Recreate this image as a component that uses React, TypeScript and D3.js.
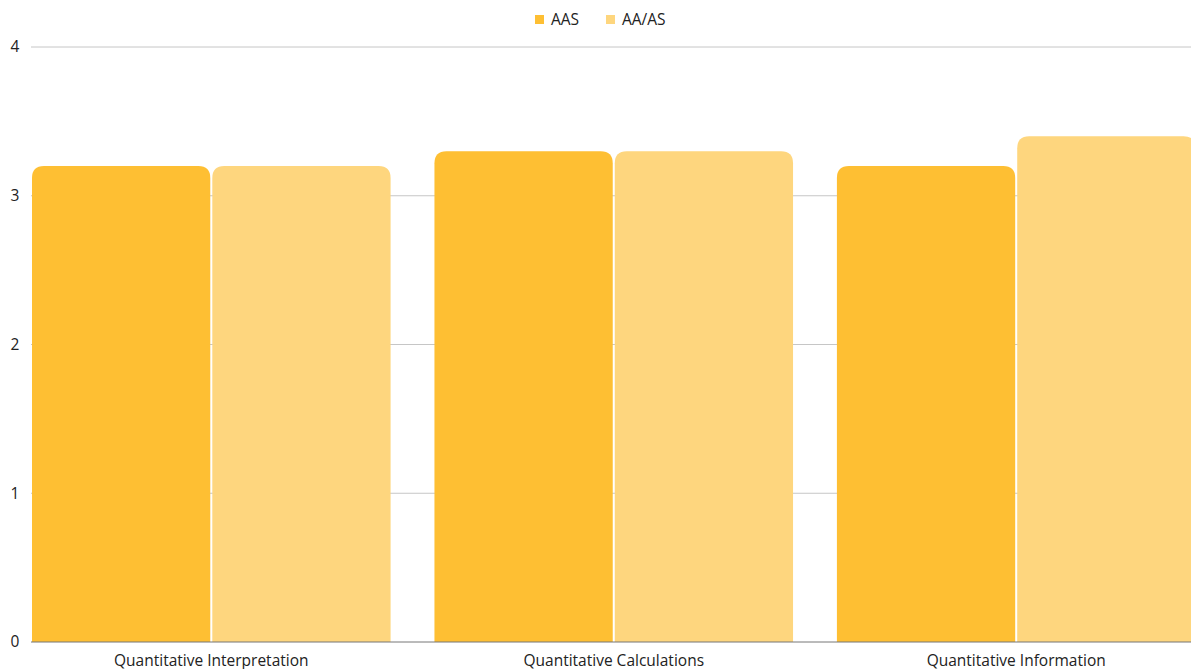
import React, { useEffect } from "react";
import * as d3 from "d3";

const categories = ["Quantitative Interpretation", "Quantitative Calculations", "Quantitative Information"];
const seriesNames = ["AAS", "AA/AS"];
const aasValues = [3.2, 3.3, 3.2];
const aaasValues = [3.2, 3.3, 3.4];
const yTicks = [0, 1, 2, 3, 4];
const colors = ["#FEBF33", "#FED67E"];

const W = 1191;
const H = 669;
const FONT = "'Source Sans Pro', 'Open Sans', sans-serif";
const FS = 15.5;

function topRounded(x: number, y: number, w: number, h: number, r: number) {
  const rr = Math.min(r, w / 2, h);
  return `M${x},${y + h}V${y + rr}Q${x},${y} ${x + rr},${y}H${x + w - rr}Q${x + w},${y} ${x + w},${y + rr}V${y + h}Z`;
}

export default function App() {
  useEffect(() => {
    document.body.style.margin = "0";
  }, []);

  const left = 31;
  const plotRight = 1191;
  const y = d3.scaleLinear().domain([0, 4]).range([642, 47]);
  const x = d3.scaleBand<string>().domain(categories).range([32, 1195.5]).paddingInner(0.109).paddingOuter(0);
  const inner = d3.scaleBand<string>().domain(seriesNames).range([0, x.bandwidth()]).paddingInner(0.0112);
  const series = [aasValues, aaasValues];

  return (
    <svg width={W} height={H} style={{ display: "block", fontFamily: FONT }}>
      <defs>
        <clipPath id="clip">
          <rect x={0} y={0} width={W} height={H} />
        </clipPath>
      </defs>
      {yTicks.map((t) => (
        <g key={t}>
          {t > 0 && (
            <line x1={left} x2={plotRight} y1={y(t)} y2={y(t)} stroke="#c6c6c6" strokeWidth={1} />
          )}
          <text x={15} y={y(t)} dy="0.35em" textAnchor="middle" fontSize={FS} fill="#222">
            {t}
          </text>
        </g>
      ))}
      <g clipPath="url(#clip)">
        {categories.map((c, i) =>
          series.map((vals, si) => {
            const bx = (x(c) as number) + (inner(seriesNames[si]) as number);
            const bw = inner.bandwidth();
            const top = y(vals[i]);
            return (
              <path key={c + si} d={topRounded(bx, top, bw, y(0) - top, 12)} fill={colors[si]} />
            );
          })
        )}
      </g>
      <line x1={left} x2={plotRight} y1={y(0)} y2={y(0)} stroke="#777" strokeWidth={1} />
      {categories.map((c) => (
        <text key={c} x={(x(c) as number) + x.bandwidth() / 2} y={661} dy="0.35em" textAnchor="middle" fontSize={FS} fill="#222">
          {c}
        </text>
      ))}
      <g>
        <rect x={535} y={15} width={9} height={9} fill={colors[0]} />
        <text x={551} y={20} dy="0.35em" fontSize={FS} fill="#222">{seriesNames[0]}</text>
        <rect x={606} y={15} width={9} height={9} fill={colors[1]} />
        <text x={622} y={20} dy="0.35em" fontSize={FS} fill="#222">{seriesNames[1]}</text>
      </g>
    </svg>
  );
}
